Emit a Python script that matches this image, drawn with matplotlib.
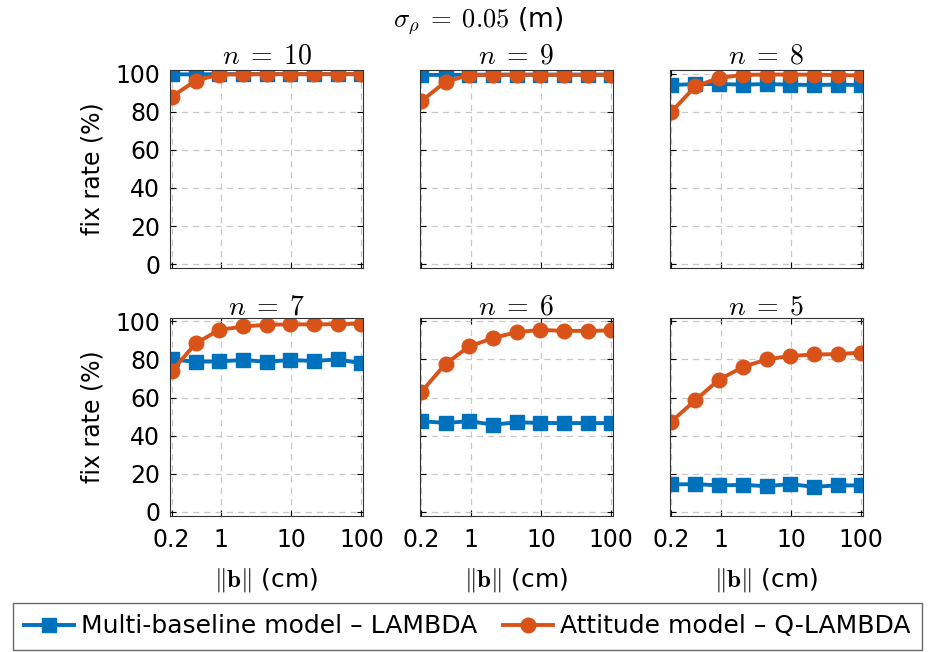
import numpy as np
import matplotlib.pyplot as plt
from matplotlib.lines import Line2D

plt.rcParams['font.family'] = 'DejaVu Sans'
plt.rcParams['mathtext.fontset'] = 'cm'

# baseline lengths (cm)
b_len = [0.2, 0.44, 0.95, 2.1, 4.5, 9.7, 21, 46, 100]

n_vals = [10, 9, 8, 7, 6, 5]

# fix rates (%)
lam = {
    10: [99.6, 99.6, 99.7, 99.7, 99.7, 99.7, 99.7, 99.7, 99.7],
    9:  [99.3, 99.3, 99.4, 99.4, 99.4, 99.4, 99.4, 99.4, 99.4],
    8:  [94.0, 94.5, 94.5, 94.2, 94.5, 94.2, 94.0, 94.2, 94.0],
    7:  [80.0, 78.8, 79.0, 79.7, 78.8, 79.7, 79.2, 80.0, 78.0],
    6:  [47.6, 46.7, 47.6, 45.8, 47.0, 46.7, 46.6, 46.6, 46.6],
    5:  [14.4, 14.6, 13.9, 14.2, 13.5, 14.6, 13.2, 13.9, 13.9],
}
qlam = {
    10: [87.8, 96.3, 99.5, 99.6, 99.7, 99.7, 99.7, 99.7, 99.7],
    9:  [85.6, 95.7, 99.2, 99.4, 99.4, 99.4, 99.4, 99.4, 99.4],
    8:  [80.0, 93.3, 97.7, 99.3, 99.5, 99.5, 99.4, 99.2, 99.0],
    7:  [73.8, 88.4, 95.5, 97.3, 98.2, 98.4, 98.4, 98.5, 98.8],
    6:  [63.1, 77.7, 86.8, 91.3, 94.3, 95.5, 95.0, 95.0, 95.2],
    5:  [47.4, 58.7, 69.4, 76.1, 80.0, 81.8, 82.6, 82.8, 83.6],
}

blue = '#0072BD'
orange = '#D95319'

fig = plt.figure(figsize=(9.29, 6.52), dpi=100)
lefts = [0.183, 0.452, 0.721]
bottoms = [0.589, 0.209]
w, h = 0.208, 0.304

for i, n in enumerate(n_vals):
    r, c = divmod(i, 3)
    ax = fig.add_axes([lefts[c], bottoms[r], w, h])
    ax.plot(b_len, lam[n], '-s', color=blue, lw=2.8, ms=10)
    ax.plot(b_len, qlam[n], '-o', color=orange, lw=2.8, ms=10.5)
    ax.set_xscale('log')
    ax.set_xlim(0.19, 106)
    ax.set_ylim(-2, 102)
    ax.set_xticks([0.2, 1, 10, 100])
    ax.set_xticklabels(['0.2', '1', '10', '100'])
    ax.minorticks_off()
    ax.set_yticks([0, 20, 40, 60, 80, 100])
    ax.grid(True, ls=(0, (5, 4)), color='#c8c8c8', lw=0.9)
    ax.tick_params(direction='in', labelsize=17, top=True, right=True, length=4)
    ax.tick_params(axis='x', pad=9)
    ax.tick_params(axis='y', pad=7)
    for s in ax.spines.values():
        s.set_color('#333333')
    ax.set_title(r'$n\;=\;%d$' % n, fontsize=20, pad=2)
    if c == 0:
        ax.set_ylabel('fix rate (%)', fontsize=17, labelpad=8)
    else:
        ax.set_yticklabels([])
    if r == 0:
        ax.set_xticklabels([])
    else:
        ax.set_xlabel(r'$\Vert\mathbf{b}\Vert$ (cm)', fontsize=18, labelpad=10)

fig.text(0.515, 0.969, r'$\sigma_\rho\;=\;0.05$ (m)', ha='center', va='center', fontsize=19)

handles = [Line2D([], [], color=blue, marker='s', lw=2.8, ms=10),
           Line2D([], [], color=orange, marker='o', lw=2.8, ms=10.5)]
fig.legend(handles, ['Multi-baseline model – LAMBDA', 'Attitude model – Q-LAMBDA'],
           loc='lower center', bbox_to_anchor=(0.503, 0.0), ncol=2, fontsize=18,
           frameon=True, fancybox=False, edgecolor='#444444', handlelength=2.0,
           columnspacing=1.0, handletextpad=0.3, borderpad=0.45, borderaxespad=0.1)

fig.savefig('out.png', dpi=100)
